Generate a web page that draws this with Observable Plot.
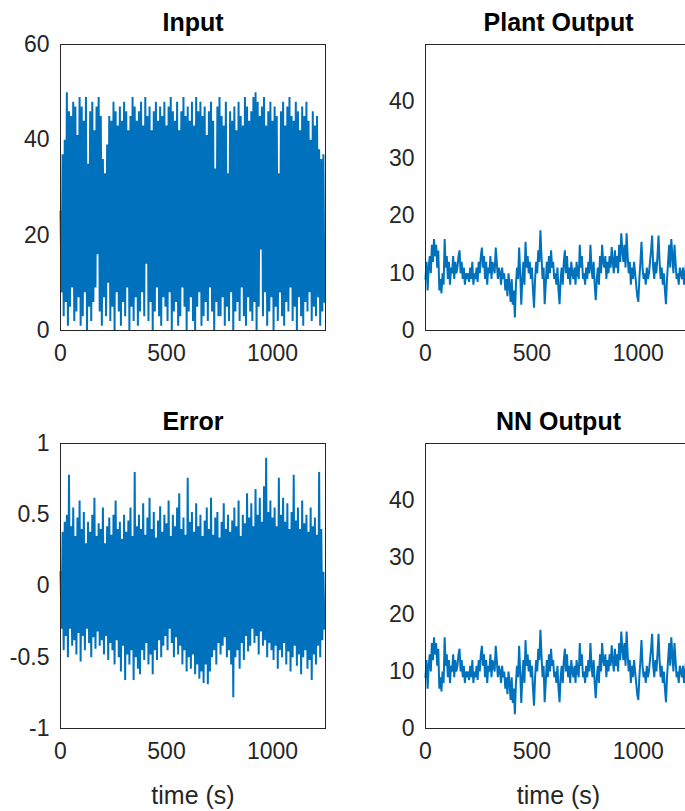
<!DOCTYPE html>
<html><head><meta charset="utf-8">
<script src="https://cdn.jsdelivr.net/npm/d3@7"></script>
<script src="https://cdn.jsdelivr.net/npm/@observablehq/plot@0.6"></script>
<style>
html,body{margin:0;padding:0;background:#fff;overflow:hidden;width:685px;height:811px}
#wrap{position:relative;width:685px;height:811px;overflow:hidden;background:#fff}
#wrap svg{position:absolute;overflow:visible}
</style></head><body><div id="wrap"></div>
<script>
// sampling step of the series (s)
const dt = 5;
const timeTicks = [0, 500, 1000];
const inputTicks = [0, 20, 40, 60];
const outputTicks = [0, 10, 20, 30, 40];
const errorTicks = [-1, -0.5, 0, 0.5, 1];
const titles = ["Input", "Plant Output", "Error", "NN Output"];
const xLabel = "time (s)";

const inputSignal = [
25,8, 37,3, 40,6, 50,1, 46,5, 45,9, 48,2, 47,4, 41,7, 49,1,
47,3, 44,8, 49,0, 35,5, 46,2, 48,6, 42,9, 47,16, 49,4, 45,1,
36,7, 33,3, 39,10, 45,2, 44,5, 48,0, 46,8, 43,4, 47,1, 44,6,
48,3, 46,9, 42,0, 45,5, 49,2, 47,7, 44,1, 46,4, 48,8, 43,3,
49,14, 45,2, 47,6, 42,0, 46,4, 48,9, 44,3, 47,1, 45,7, 48,5,
43,2, 47,8, 49,0, 46,4, 44,6, 48,1, 42,3, 46,9, 49,5, 45,0,
47,4, 44,7, 48,2, 43,0, 49,5, 46,8, 48,1, 45,3, 47,6, 41,2,
46,9, 48,4, 44,0, 34,6, 47,3, 49,3, 45,7, 43,1, 48,5, 33,2,
46,8, 44,0, 47,4, 42,6, 48,2, 45,9, 43,3, 49,1, 47,7, 44,4,
46,2, 49,6, 50,0, 48,5, 45,17, 47,3, 49,8, 43,1, 46,4, 48,7,
44,0, 47,5, 45,2, 33,8, 46,3, 48,1, 43,6, 47,4, 49,9, 45,2,
44,5, 48,0, 46,7, 42,3, 47,1, 45,6, 48,4, 44,8, 40,2, 46,5,
43,3, 45,7, 38,1, 36,4, 37,6
];

const errorSignal = [
0.1,-0.3, 0.38,-0.45, 0.45,-0.35, 0.5,-0.5, 0.78,-0.3, 0.42,-0.42, 0.55,-0.38, 0.35,-0.48, 0.48,-0.33, 0.6,-0.53,
0.4,-0.35, 0.52,-0.45, 0.3,-0.3, 0.45,-0.4, 0.38,-0.5, 0.5,-0.36, 0.62,-0.44, 0.35,-0.32, 0.44,-0.42, 0.4,-0.38,
0.55,-0.48, 0.3,-0.35, 0.42,-0.52, 0.48,-0.4, 0.36,-0.45, 0.5,-0.55, 0.6,-0.38, 0.4,-0.5, 0.45,-0.6, 0.33,-0.42,
0.5,-0.66, 0.38,-0.48, 0.46,-0.55, 0.55,-0.45, 0.35,-0.66, 0.8,-0.5, 0.42,-0.58, 0.5,-0.62, 0.4,-0.45, 0.58,-0.52,
0.36,-0.4, 0.48,-0.55, 0.62,-0.48, 0.4,-0.62, 0.52,-0.45, 0.34,-0.52, 0.46,-0.38, 0.56,-0.5, 0.38,-0.42, 0.5,-0.35,
0.44,-0.45, 0.6,-0.3, 0.35,-0.4, 0.5,-0.5, 0.42,-0.36, 0.55,-0.48, 0.65,-0.42, 0.4,-0.55, 0.48,-0.45, 0.36,-0.6,
0.76,-0.5, 0.45,-0.58, 0.52,-0.48, 0.38,-0.62, 0.58,-0.55, 0.42,-0.65, 0.5,-0.6, 0.35,-0.68, 0.46,-0.55, 0.55,-0.69,
0.4,-0.6, 0.62,-0.5, 0.36,-0.45, 0.48,-0.55, 0.52,-0.4, 0.34,-0.48, 0.45,-0.42, 0.58,-0.36, 0.4,-0.5, 0.5,-0.45,
0.38,-0.55, 0.46,-0.78, 0.55,-0.5, 0.42,-0.45, 0.6,-0.58, 0.35,-0.4, 0.5,-0.52, 0.44,-0.35, 0.65,-0.46, 0.48,-0.42,
0.58,-0.3, 0.42,-0.4, 0.68,-0.35, 0.5,-0.48, 0.62,-0.32, 0.45,-0.42, 0.7,-0.38, 0.9,-0.5, 0.52,-0.4, 0.6,-0.45,
0.48,-0.52, 0.55,-0.42, 0.42,-0.58, 0.76,-0.45, 0.5,-0.5, 0.62,-0.4, 0.45,-0.55, 0.58,-0.46, 0.4,-0.6, 0.52,-0.5,
0.78,-0.42, 0.46,-0.56, 0.55,-0.48, 0.4,-0.62, 0.6,-0.5, 0.44,-0.45, 0.5,-0.58, 0.38,-0.52, 0.55,-0.66, 0.42,-0.48,
0.48,-0.55, 0.36,-0.42, 0.8,-0.5, 0.4,-0.38, 0.1,-0.3
];

const plantOutput = [
9, 12, 7, 11, 13, 10, 15, 12, 16, 13,
15, 11, 14, 7, 9, 6.5, 10, 8, 16, 11,
13, 9, 12, 8, 11, 10, 13, 9, 12, 10,
11, 13, 14, 10, 12, 9, 11, 8, 10, 9,
10, 8.5, 11, 9, 12, 8, 10, 9, 11, 8.5,
12, 10, 13, 14.5, 11, 13, 9, 12, 8, 11,
10, 13, 9, 12, 11, 10, 14.5, 12, 9, 11,
10, 8, 11, 9, 10, 7, 9, 6, 10, 8,
5, 9, 4.5, 7, 2.3, 8, 11, 9, 14.5, 10,
4.5, 9, 12, 8, 15.5, 11, 13, 10, 12, 9,
11, 7, 4, 9, 12, 10, 14, 12, 17.5, 13,
9, 11, 4.6, 8, 12, 9, 13, 10, 14, 11,
12, 9, 10, 8, 11, 7, 4.6, 9, 11, 8,
12, 14, 10, 13, 9, 11, 8, 12, 10, 9,
11, 8, 12, 10, 9, 15, 11, 13, 9, 10,
8, 11, 9, 12, 10, 15, 11, 9, 12, 8,
5.3, 9, 11, 8, 13, 10, 15, 12, 11, 13,
9, 12, 10, 13, 11, 14.6, 12, 10, 14, 11,
13, 10, 15, 12, 17, 14, 12, 15, 11, 17,
13, 10, 12, 8, 11, 9, 12, 10, 8, 6,
5, 9, 12, 15.5, 11, 9, 10, 8, 11, 9,
10, 12, 14, 16.6, 11, 9, 12, 10, 13, 16.6,
12, 9, 11, 8, 10, 7, 4.6, 9, 12, 15,
11, 16, 13, 10, 15, 12, 9, 10, 8, 11,
10, 9, 11, 8, 10, 12, 9, 11, 10, 9
];

const nnOutput = [
9, 12, 7, 11, 13, 10, 15, 12, 16, 13,
15, 11, 14, 7, 9, 6.5, 10, 8, 16, 11,
13, 9, 12, 8, 11, 10, 13, 9, 12, 10,
11, 13, 14, 10, 12, 9, 11, 8, 10, 9,
10, 8.5, 11, 9, 12, 8, 10, 9, 11, 8.5,
12, 10, 13, 14.5, 11, 13, 9, 12, 8, 11,
10, 13, 9, 12, 11, 10, 14.5, 12, 9, 11,
10, 8, 11, 9, 10, 7, 9, 6, 10, 8,
5, 9, 4.5, 7, 2.5, 8, 11, 9, 14.5, 10,
4.5, 9, 12, 8, 15.5, 11, 13, 10, 12, 9,
11, 7, 4, 9, 12, 10, 14, 12, 17.3, 13,
9, 11, 4.6, 8, 12, 9, 13, 10, 14, 11,
12, 9, 10, 8, 11, 7, 4.6, 9, 11, 8,
12, 14, 10, 13, 9, 11, 8, 12, 10, 9,
11, 8, 12, 10, 9, 15, 11, 13, 9, 10,
8, 11, 9, 12, 10, 15, 11, 9, 12, 8,
5.3, 9, 11, 8, 13, 10, 15, 12, 11, 13,
9, 12, 10, 13, 11, 14.6, 12, 10, 14, 11,
13, 10, 15, 12, 17, 14, 12, 15, 11, 17,
13, 10, 12, 8, 11, 9, 12, 10, 8, 6,
5, 9, 12, 15.5, 11, 9, 10, 8, 11, 9,
10, 12, 14, 16.6, 11, 9, 12, 10, 13, 16.6,
12, 9, 11, 8, 10, 7, 4.6, 9, 12, 15,
11, 16, 13, 10, 15, 12, 9, 10, 8, 11,
10, 9, 11, 8, 10, 12, 9, 11, 10, 9
];

const FONT = "'Liberation Sans', Arial, Helvetica, sans-serif";
const LINE = "#0072BD";
const AX = "#262626";

function panel({values, yDomain, yTicks, title, label, lineWidth, left, top, width, height, mL, mR, mT, mB}) {
  const data = values.map((v, i) => ({t: i * dt, v}));
  const marks = [
    Plot.line(data, {x: "t", y: "v", stroke: LINE, strokeWidth: lineWidth, strokeLinejoin: "miter"}),
    Plot.frame({stroke: AX, strokeWidth: 1}),
    Plot.axisX(timeTicks, {tickSize: 0, tickPadding: 14, label: null, fill: AX, fontSize: 23, tickFormat: d => String(d)}),
    Plot.axisY(yTicks, {tickSize: 0, tickPadding: 11, label: null, fill: AX, fontSize: 23, tickFormat: d => String(d)}),
    Plot.text([title], {frameAnchor: "top", lineAnchor: "middle", dy: -22, text: d => d, fontSize: 25, fontWeight: "bold", fill: "#000"})
  ];
  if (label) marks.push(Plot.text([label], {frameAnchor: "bottom", lineAnchor: "middle", dy: 67, text: d => d, fontSize: 25, fill: AX}));
  const svg = Plot.plot({
    width, height,
    marginLeft: mL, marginRight: mR, marginTop: mT, marginBottom: mB,
    x: {domain: [0, 1250]},
    y: {domain: yDomain},
    style: {fontFamily: FONT, fontSize: "23px", background: "transparent", overflow: "visible"},
    marks
  });
  svg.style.left = left + "px";
  svg.style.top = top + "px";
  document.getElementById("wrap").appendChild(svg);
}

panel({values: inputSignal, yDomain: [0, 60], yTicks: inputTicks, title: titles[0], lineWidth: 2,
  left: 0, top: 0, width: 340, height: 380, mL: 60, mR: 15, mT: 44, mB: 50});
panel({values: plantOutput, yDomain: [0, 50], yTicks: outputTicks, title: titles[1], lineWidth: 2,
  left: 340, top: 0, width: 360, height: 380, mL: 85, mR: 9, mT: 44, mB: 50});
panel({values: errorSignal, yDomain: [-1, 1], yTicks: errorTicks, title: titles[2], label: xLabel, lineWidth: 2,
  left: 0, top: 400, width: 340, height: 411, mL: 60, mR: 15, mT: 43, mB: 83});
panel({values: nnOutput, yDomain: [0, 50], yTicks: outputTicks, title: titles[3], label: xLabel, lineWidth: 2,
  left: 340, top: 400, width: 360, height: 411, mL: 85, mR: 9, mT: 43, mB: 83});
</script></body></html>
